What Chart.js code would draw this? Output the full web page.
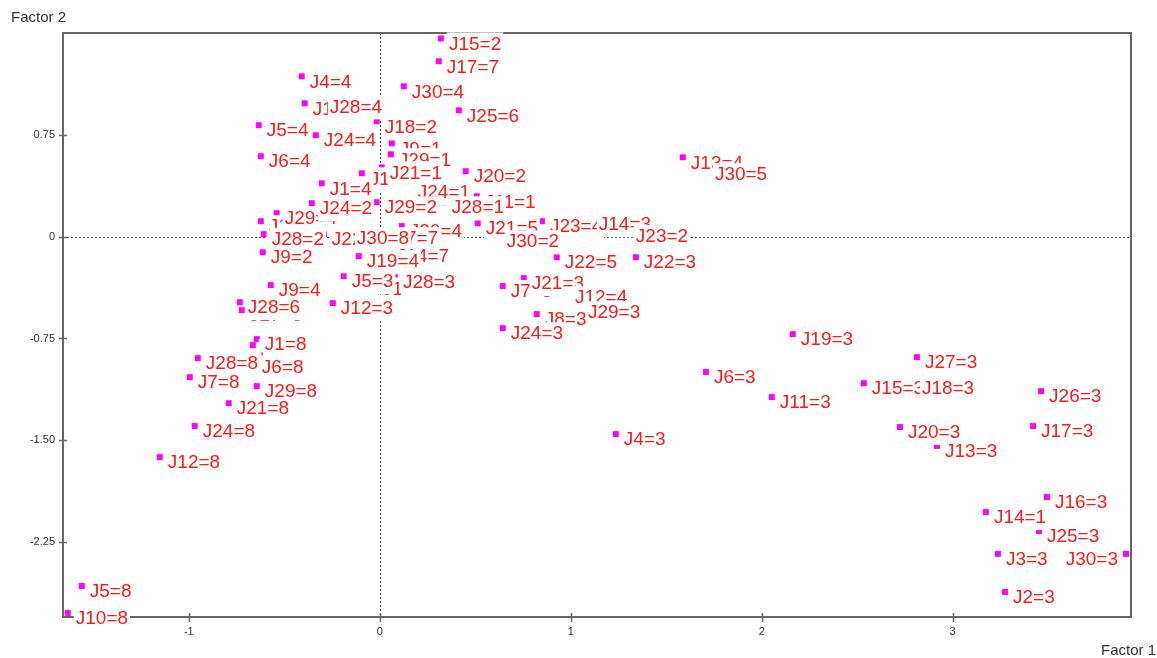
<!DOCTYPE html>
<html>
<head>
<meta charset="utf-8">
<script src="https://cdn.jsdelivr.net/npm/chart.js@4.4.1/dist/chart.umd.min.js"></script>
<style>
  body { margin: 0; background: #fff; }
  canvas { display: block; }
</style>
</head>
<body>
<canvas id="factorChart" width="1157" height="658"></canvas>
<script>
// --- 데이터 (Factor 1 / Factor 2 좌표) ---
const pointLabels = [
    'J10=4', 'J28=4', 'J15=2', 'J17=7', 'J4=4', 'J30=4', 'J25=6', 'J5=4', 'J24=4', 'J9=1',
    'J18=2', 'J29=1', 'J6=4', 'J13=1', 'J21=1', 'J20=2', 'J1=4', 'J24=1', 'J13=2', 'J29=4',
    'J24=2', 'J29=2', 'J11=1', 'J28=1', 'J20=4', 'J21=5', 'J23=4', 'J14=3', 'J23=2', 'J27=7',
    'J28=2', 'J22=8', 'J30=8', 'J30=2', 'J9=2', 'J14=7', 'J19=4', 'J22=5', 'J22=3', 'J10=3',
    'J5=3', 'J28=3', 'J9=4', 'J7=3', 'J21=3', 'J12=4', 'J27=6', 'J28=6', 'J12=3', 'J8=3',
    'J29=3', 'J24=3', 'J3=8', 'J1=8', 'J28=8', 'J6=8', 'J7=8', 'J29=8', 'J21=8', 'J24=8',
    'J12=8', 'J5=8', 'J10=8', 'J13=4', 'J30=5', 'J19=3', 'J6=3', 'J11=3', 'J4=3', 'J27=3',
    'J15=3', 'J18=3', 'J20=3', 'J13=3', 'J26=3', 'J17=3', 'J16=3', 'J14=1', 'J25=3', 'J3=3',
    'J30=3', 'J2=3'
];
const factor1 = [
    -0.393, -0.304, 0.320, 0.309, -0.409, 0.126, 0.414, -0.634, -0.335, 0.063,
    -0.016, 0.058, -0.623, -0.094, 0.010, 0.450, -0.304, 0.157, -0.623, -0.540,
    -0.356, -0.016, 0.508, 0.335, 0.115, 0.513, 0.849, 1.105, 1.299, -0.010,
    -0.608, -0.293, -0.162, 0.623, -0.613, 0.047, -0.110, 0.927, 1.341, -0.026,
    -0.189, 0.079, -0.571, 0.644, 0.754, 0.980, -0.723, -0.733, -0.246, 0.822,
    1.048, 0.644, -0.665, -0.644, -0.953, -0.660, -0.995, -0.644, -0.791, -0.969,
    -1.152, -1.561, -1.634, 1.587, 1.713, 2.163, 1.708, 2.053, 1.236, 2.813,
    2.535, 2.797, 2.724, 2.918, 3.463, 3.421, 3.494, 3.174, 3.452, 3.237,
    3.908, 3.274
];
const factor2 = [
    0.987, 1.001, 1.466, 1.297, 1.186, 1.112, 0.935, 0.825, 0.751, 0.691,
    0.854, 0.610, 0.596, 0.470, 0.514, 0.485, 0.396, 0.367, 0.116, 0.175,
    0.249, 0.256, 0.300, 0.256, 0.080, 0.101, 0.116, 0.131, 0.042, 0.027,
    0.020, 0.020, 0.027, 0.005, -0.113, -0.105, -0.142, -0.150, -0.150, -0.344,
    -0.290, -0.297, -0.356, -0.363, -0.304, -0.408, -0.541, -0.482, -0.489, -0.570,
    -0.519, -0.674, -0.799, -0.755, -0.895, -0.925, -1.036, -1.102, -1.228, -1.397,
    -1.626, -2.578, -2.777, 0.588, 0.500, -0.718, -0.998, -1.183, -1.456, -0.888,
    -1.080, -1.080, -1.404, -1.544, -1.139, -1.397, -1.921, -2.032, -2.172, -2.341,
    -2.341, -2.622
];
const xTicks = [-1, 0, 1, 2, 3];
const yTicks = [0.75, 0, -0.75, -1.5, -2.25];

const points = factor1.map((x, i) => ({ x: x, y: factor2[i] }));

// --- 프레임, 점선(0 기준선), 눈금 ---
const framePlugin = {
    id: 'frame',
    beforeDatasetsDraw: (chart) => {
        const { ctx, chartArea, scales } = chart;
        const { left, right, top, bottom } = chartArea;
        ctx.save();

        // 0 기준 점선
        ctx.strokeStyle = '#444';
        ctx.lineWidth = 1;
        ctx.setLineDash([2, 2]);
        const x0 = Math.round(scales.x.getPixelForValue(0)) + 0.5;
        const y0 = Math.round(scales.y.getPixelForValue(0)) + 0.5;
        ctx.beginPath();
        ctx.moveTo(x0, top);
        ctx.lineTo(x0, bottom);
        ctx.moveTo(left, y0);
        ctx.lineTo(right, y0);
        ctx.stroke();
        ctx.setLineDash([]);

        // 테두리
        ctx.strokeStyle = '#666';
        ctx.lineWidth = 2;
        ctx.strokeRect(left, top, right - left, bottom - top);

        // 눈금
        ctx.lineWidth = 1.5;
        ctx.beginPath();
        xTicks.forEach(v => {
            const px = Math.round(scales.x.getPixelForValue(v)) + 0.5;
            ctx.moveTo(px, bottom - 4);
            ctx.lineTo(px, bottom + 5);
        });
        yTicks.forEach(v => {
            const py = Math.round(scales.y.getPixelForValue(v)) + 0.5;
            ctx.moveTo(left - 4, py);
            ctx.lineTo(left + 4, py);
        });
        ctx.stroke();

        // 축 제목
        ctx.fillStyle = '#333';
        ctx.font = '15px Arial';
        ctx.textBaseline = 'middle';
        ctx.textAlign = 'left';
        ctx.fillText('Factor 2', 11, 18);
        ctx.fillText('Factor 1', 1101, 651);

        ctx.restore();
    }
};

// --- 점 라벨 (흰 배경) ---
const labelPlugin = {
    id: 'pointLabels',
    afterDatasetsDraw: (chart) => {
        const { ctx, chartArea } = chart;
        const meta = chart.getDatasetMeta(0);
        ctx.save();
        ctx.font = '19px Arial';
        ctx.textBaseline = 'middle';
        ctx.textAlign = 'left';
        meta.data.forEach((pt, i) => {
            const text = pointLabels[i];
            const w = ctx.measureText(text).width;
            let lx = pt.x + 8;
            if (lx + w > chartArea.right) lx = pt.x - 8 - w;
            const cy = pt.y + 6;
            ctx.fillStyle = '#fff';
            ctx.fillRect(lx - 2, cy - 12, w + 4, 24);
            ctx.fillStyle = '#ff1a1a';
            ctx.fillText(text, lx, cy);
        });
        ctx.restore();
    }
};

const tickFont = { family: 'Arial', size: 11 };

new Chart(document.getElementById('factorChart').getContext('2d'), {
    type: 'scatter',
    data: {
        datasets: [{
            data: points,
            pointStyle: 'rect',
            pointRadius: 4.2,
            pointHoverRadius: 4.2,
            backgroundColor: '#ff00ff',
            borderWidth: 0
        }]
    },
    options: {
        responsive: false,
        animation: false,
        layout: { padding: { top: 33, right: 26, left: 0, bottom: 0 } },
        plugins: {
            legend: { display: false },
            tooltip: { enabled: false }
        },
        scales: {
            x: {
                type: 'linear',
                min: -1.659,
                max: 3.934,
                afterBuildTicks: (scale) => { scale.ticks = xTicks.map(v => ({ value: v })); },
                afterFit: (scale) => { scale.height = 41; },
                grid: { display: false, drawTicks: false },
                border: { display: false },
                ticks: {
                    padding: 8,
                    font: tickFont,
                    color: '#333',
                    callback: (value) => String(value)
                }
            },
            y: {
                type: 'linear',
                min: -2.807,
                max: 1.506,
                afterBuildTicks: (scale) => { scale.ticks = yTicks.map(v => ({ value: v })); },
                afterFit: (scale) => { scale.width = 63; },
                grid: { display: false, drawTicks: false },
                border: { display: false },
                ticks: {
                    padding: 8,
                    font: tickFont,
                    color: '#333',
                    callback: (value) => value === 0 ? '0' : value.toFixed(2)
                }
            }
        }
    },
    plugins: [framePlugin, labelPlugin]
});
</script>
</body>
</html>
